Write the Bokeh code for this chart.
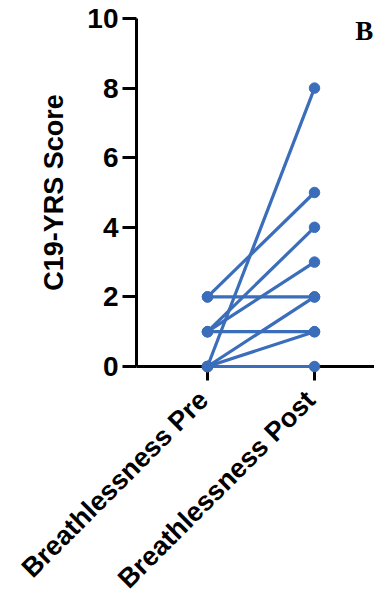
import math
from bokeh.plotting import figure
from bokeh.models import FixedTicker, Range1d, Label
from bokeh.core.properties import value
from bokeh.embed import file_html
from bokeh.resources import INLINE

# ---- data ----
categories = ["Breathlessness Pre", "Breathlessness Post"]
pre_scores = [2, 2, 1, 1, 1, 0, 0, 0, 0]
post_scores = [5, 2, 4, 3, 1, 8, 2, 1, 0]
y_ticks = [0, 2, 4, 6, 8, 10]
y_label = "C19-YRS Score"
panel_letter = "B"

BLUE = "#3A6DBA"
FONT = "Liberation Sans"

cat_pos = {c: i + 1 for i, c in enumerate(categories)}
xs = [[cat_pos[categories[0]], cat_pos[categories[1]]] for _ in pre_scores]
ys = [[a, b] for a, b in zip(pre_scores, post_scores)]

p = figure(width=374, height=593, output_backend="svg", toolbar_location=None,
           x_range=Range1d(1 - 71 / 107, 2 + 60 / 107), y_range=Range1d(0, 10),
           min_border_left=136, min_border_right=0, min_border_top=18,
           min_border_bottom=227)
p.outline_line_color = None
p.grid.visible = False
p.background_fill_color = "white"

# lines and points
p.multi_line(xs=xs, ys=ys, line_color=BLUE, line_width=3.2, level="overlay")
pts_x = [x for pair in xs for x in pair]
pts_y = [y for pair in ys for y in pair]
p.scatter(x=pts_x, y=pts_y, size=10.5, fill_color=BLUE, line_color=BLUE, level="overlay")

# axes
for ax in (p.xaxis[0], p.yaxis[0]):
    ax.axis_line_width = 3
    ax.axis_line_color = "black"
    ax.major_tick_line_width = 3
    ax.major_tick_line_color = "black"
    ax.major_tick_in = 0
    ax.major_tick_out = 14
    ax.minor_tick_line_color = None
    ax.major_label_text_font = FONT
    ax.major_label_text_font_style = "bold"
    ax.major_label_text_color = "black"
    ax.major_label_text_font_size = "28px"

p.yaxis.ticker = FixedTicker(ticks=y_ticks)
p.yaxis.major_label_standoff = 4
p.yaxis.axis_label = y_label
p.yaxis.axis_label_text_font = FONT
p.yaxis.axis_label_text_font_style = "bold"
p.yaxis.axis_label_text_font_size = "27px"
p.yaxis.axis_label_text_color = "black"
p.yaxis.axis_label_standoff = 15

# x axis: ticks only; category labels drawn rotated below
p.xaxis.ticker = FixedTicker(ticks=[cat_pos[c] for c in categories])
p.xaxis.major_label_overrides = {cat_pos[c]: "" for c in categories}

p.text(x=[cat_pos[c] for c in categories], y=[y_ticks[0]] * len(categories),
       text=categories, angle=math.pi / 4, text_align="right",
       text_baseline="middle", x_offset=-4, y_offset=29,
       text_font=value(FONT), text_font_style="bold", text_font_size="27px",
       text_color="black", level="overlay")

p.add_layout(Label(x=2.38, y=9.2, text=panel_letter, text_font="Liberation Serif",
                   text_font_style="bold", text_font_size="27px", text_color="black"))

open("out.html", "w").write(file_html(p, INLINE))
